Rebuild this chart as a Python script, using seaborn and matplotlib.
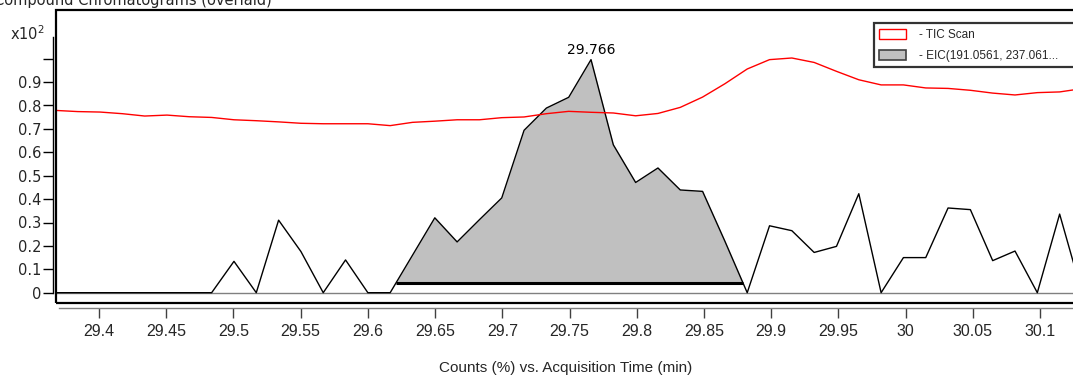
import numpy as np
import pandas as pd
import matplotlib
matplotlib.use("Agg")
import matplotlib.pyplot as plt
from matplotlib.patches import Patch, Rectangle
import seaborn as sns

# ---------------- data ----------------
times = [29.3676, 29.3842, 29.4008, 29.4174, 29.4340, 29.4506, 29.4672, 29.4838,
         29.5004, 29.5170, 29.5336, 29.5502, 29.5668, 29.5834, 29.6000, 29.6166,
         29.6332, 29.6498, 29.6664, 29.6830, 29.6996, 29.7162, 29.7328, 29.7494,
         29.7660, 29.7826, 29.7992, 29.8158, 29.8324, 29.8490, 29.8656, 29.8822,
         29.8988, 29.9154, 29.9320, 29.9486, 29.9652, 29.9818, 29.9984, 30.0150,
         30.0316, 30.0482, 30.0648, 30.0814, 30.0980, 30.1146, 30.1312]

tic_scan = [0.779, 0.774, 0.772, 0.765, 0.755, 0.759, 0.752, 0.749,
            0.739, 0.735, 0.730, 0.724, 0.722, 0.722, 0.722, 0.714,
            0.728, 0.733, 0.739, 0.739, 0.748, 0.751, 0.765, 0.775,
            0.771, 0.768, 0.756, 0.766, 0.792, 0.836, 0.893, 0.956,
            0.996, 1.003, 0.984, 0.946, 0.910, 0.888, 0.888, 0.875,
            0.873, 0.865, 0.853, 0.845, 0.855, 0.858, 0.872]

eic = [0.0, 0.0, 0.0, 0.0, 0.0, 0.0, 0.0, 0.0,
       0.134, 0.0, 0.310, 0.176, 0.0, 0.140, 0.0, 0.0,
       0.160, 0.320, 0.217, 0.312, 0.405, 0.694, 0.789, 0.835,
       0.996, 0.632, 0.471, 0.533, 0.439, 0.433, 0.220, 0.0,
       0.286, 0.265, 0.172, 0.198, 0.423, 0.0, 0.150, 0.150,
       0.362, 0.355, 0.137, 0.178, 0.0, 0.336, 0.0]

peak_start = 29.621
peak_end = 29.879
baseline_level = 0.040
peak_label = "29.766"

x_ticks = [29.4, 29.45, 29.5, 29.55, 29.6, 29.65, 29.7, 29.75, 29.8, 29.85,
           29.9, 29.95, 30.0, 30.05, 30.1]
x_tick_labels = ["29.4", "29.45", "29.5", "29.55", "29.6", "29.65", "29.7", "29.75",
                 "29.8", "29.85", "29.9", "29.95", "30", "30.05", "30.1"]
y_ticks = [0.0, 0.1, 0.2, 0.3, 0.4, 0.5, 0.6, 0.7, 0.8, 0.9, 1.0]
y_tick_labels = ["0", "0.1", "0.2", "0.3", "0.4", "0.5", "0.6", "0.7", "0.8", "0.9", ""]

legend_labels = ["- TIC Scan", "- EIC(191.0561, 237.061..."]
title_text = "Compound Chromatograms (overlaid)"
x_label = "Counts (%) vs. Acquisition Time (min)"

# ---------------- figure ----------------
sns.set_style("white")
plt.rcParams["font.family"] = ["DejaVu Sans"]

W, H = 1073, 377
fig = plt.figure(figsize=(W / 100, H / 100), dpi=100)

def px_to_fig(x, y):
    return x / W, 1 - y / H

left, right, top, bottom = 56, 1076, 10, 303
ax = fig.add_axes([left / W, 1 - bottom / H, (right - left) / W, (bottom - top) / H])

df = pd.DataFrame({"time": times, "TIC": tic_scan, "EIC": eic})

# zero line
ax.axhline(0, color="#808080", lw=1, zorder=1)

# integrated peak fill
t_arr = np.array(times)
e_arr = np.array(eic)
mask = (t_arr > peak_start) & (t_arr < peak_end)
t_fill = np.concatenate([[peak_start], t_arr[mask], [peak_end]])
y_fill = np.interp(t_fill, t_arr, e_arr)
ax.fill_between(t_fill, y_fill, baseline_level, color="#c0c0c0", lw=0, zorder=2)

sns.lineplot(data=df, x="time", y="TIC", ax=ax, color="#ff0000", lw=1,
             sort=False, estimator=None, zorder=4)
sns.lineplot(data=df, x="time", y="EIC", ax=ax, color="black", lw=1,
             sort=False, estimator=None, zorder=3)

# integration baseline
ax.plot([peak_start, peak_end], [baseline_level, baseline_level],
        color="black", lw=2.2, solid_capstyle="butt", zorder=5)

# peak label
imax = int(np.argmax(e_arr))
ax.annotate(peak_label, xy=(t_arr[imax], e_arr[imax]), xytext=(0, 2),
            textcoords="offset points", ha="center", va="bottom", fontsize=10,
            color="black")

# limits
px_per_min = 1344.3
x0_px = 99
ax.set_xlim(29.4 - (x0_px - left) / px_per_min, 29.4 + (right - x0_px) / px_per_min)
y0_px = 292.7
px_per_unit = 234.0
ax.set_ylim(-(bottom - y0_px) / px_per_unit, (y0_px - top) / px_per_unit)

# spines
for s in ["top", "right"]:
    ax.spines[s].set_visible(False)
ax.spines["left"].set_position(("outward", 2.2))
ax.spines["left"].set_bounds(0, (y0_px - 37) / px_per_unit)
ax.spines["left"].set_color("black")
ax.spines["left"].set_linewidth(1)
ax.spines["bottom"].set_position(("outward", 3.6))
ax.spines["bottom"].set_bounds(29.4 - (x0_px - 59) / px_per_min, 30.2)
ax.spines["bottom"].set_color("#808080")
ax.spines["bottom"].set_linewidth(1)

# frame box
ax.add_patch(Rectangle((0, 0), 1, 1, transform=ax.transAxes, fill=False,
                       edgecolor="black", lw=1.6, clip_on=False, zorder=6))

ax.set_yticks(y_ticks)
ax.set_yticklabels(y_tick_labels, fontsize=10.5)
ax.set_xticks(x_ticks)
ax.set_xticklabels(x_tick_labels, fontsize=11.5,
                   family=["Liberation Sans", "DejaVu Sans"])
ax.tick_params(axis="y", direction="out", length=7.2, width=1, color="black",
               pad=1, left=True)
ax.tick_params(axis="x", direction="out", length=7.2, width=1, color="#404040",
               pad=4, bottom=True)
ax.set_xlabel(x_label, fontsize=11, family=["Liberation Sans", "DejaVu Sans"],
              labelpad=16)
ax.set_ylabel("")
ax.grid(False)

# legend
handles = [Patch(facecolor="white", edgecolor="#ff0000", lw=1),
           Patch(facecolor="#c0c0c0", edgecolor="#404040", lw=1.2)]
lx, ly = px_to_fig(874, 23.3)
lw_fig = (1085 - 874) / W
leg = ax.legend(handles, legend_labels, loc="upper left", bbox_to_anchor=(lx, ly, lw_fig, 0),
                mode="expand", bbox_transform=fig.transFigure, borderaxespad=0, frameon=True,
                fancybox=False, shadow=False, prop={"family": "Liberation Sans", "size": 8.5},
                handlelength=2.3, handleheight=1.0, handletextpad=1.1,
                labelspacing=0.75, borderpad=0.45)
leg.get_frame().set_edgecolor("black")
leg.get_frame().set_linewidth(1.6)
leg.set_zorder(10)

# title (cut at top, as in the original) and exponent
tx, ty = px_to_fig(-6, 5)
fig.text(tx, ty, title_text, fontsize=10.5, ha="left", va="baseline")
ex, ey = px_to_fig(10, 40)
fig.text(ex, ey, "x10$^2$", fontsize=10.5, ha="left", va="baseline")

fig.savefig("out.png", dpi=100)
